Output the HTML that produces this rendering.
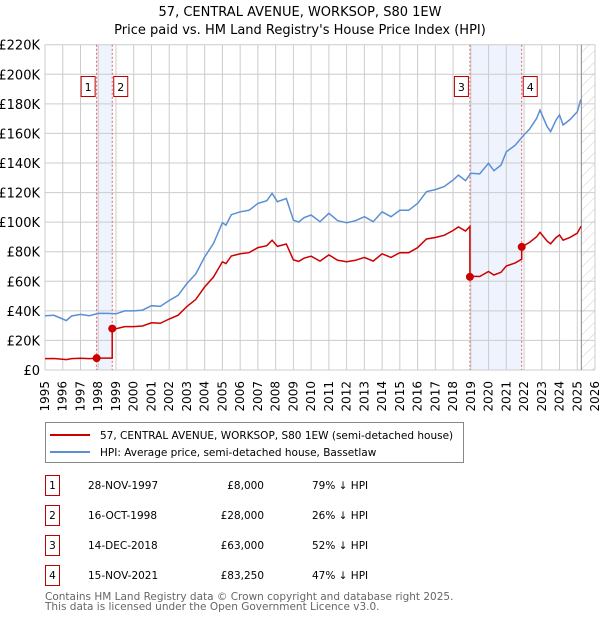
<!DOCTYPE html>
<html><head><meta charset="utf-8"><style>
body{margin:0;background:#fff;width:600px;height:620px;overflow:hidden;font-family:"DejaVu Sans","Liberation Sans",sans-serif;}
svg{display:block}
</style></head><body>
<svg id="chart" width="600" height="620" xmlns="http://www.w3.org/2000/svg">
<defs><pattern id="hatch" width="8" height="8" patternUnits="userSpaceOnUse" patternTransform="rotate(45)"><line x1="0" y1="0" x2="0" y2="8" stroke="#ccc" stroke-width="1"/></pattern></defs>
<text x="300" y="16" text-anchor="middle" font-size="13">57, CENTRAL AVENUE, WORKSOP, S80 1EW</text>
<text x="300" y="34" text-anchor="middle" font-size="13">Price paid vs. HM Land Registry's House Price Index (HPI)</text>
<g id="plot"></g>
<g>
<rect x="45.5" y="422.5" width="418" height="40" fill="#fff" stroke="#888"/>
<line x1="50" y1="435" x2="90" y2="435" stroke="#cc0000" stroke-width="2"/>
<text x="100" y="439" font-size="10.5">57, CENTRAL AVENUE, WORKSOP, S80 1EW (semi-detached house)</text>
<line x1="50" y1="452" x2="90" y2="452" stroke="#5b8fd4" stroke-width="2"/>
<text x="100" y="456" font-size="10.5">HPI: Average price, semi-detached house, Bassetlaw</text>
</g>
<g id="table" font-size="10.5"></g>
<text x="45" y="600" font-size="10.5" fill="#666">Contains HM Land Registry data © Crown copyright and database right 2025.</text>
<text x="45" y="610" font-size="10.5" fill="#666">This data is licensed under the Open Government Licence v3.0.</text>
</svg>
<script>
const yearTicks=[1995,1996,1997,1998,1999,2000,2001,2002,2003,2004,2005,2006,2007,2008,2009,2010,2011,2012,2013,2014,2015,2016,2017,2018,2019,2020,2021,2022,2023,2024,2025,2026];
const yTicks=[0,20000,40000,60000,80000,100000,120000,140000,160000,180000,200000,220000];
const yTickLabels=["£0","£20K","£40K","£60K","£80K","£100K","£120K","£140K","£160K","£180K","£200K","£220K"];
const hpiDates=[1995.0,1995.5,1996.0,1996.2,1996.5,1997.0,1997.5,1998.0,1998.5,1999.0,1999.5,2000.0,2000.5,2001.0,2001.5,2002.0,2002.5,2003.0,2003.5,2004.0,2004.5,2005.0,2005.2,2005.5,2006.0,2006.5,2007.0,2007.5,2007.8,2008.1,2008.6,2009.0,2009.3,2009.6,2010.0,2010.5,2011.0,2011.5,2012.0,2012.5,2013.0,2013.5,2014.0,2014.5,2015.0,2015.5,2016.0,2016.5,2017.0,2017.5,2018.0,2018.3,2018.7,2019.0,2019.5,2020.0,2020.3,2020.7,2021.0,2021.5,2022.0,2022.3,2022.7,2022.9,2023.3,2023.5,2023.8,2024.0,2024.2,2024.6,2025.0,2025.2];
const hpiValues=[36700,37000,34500,33400,36500,37600,36700,38300,38300,38000,40000,40000,40500,43500,43000,47000,50500,58500,65000,76500,85600,99600,98000,105000,107000,108000,112700,114500,119500,113800,116000,101400,100000,103000,104800,100300,106000,101000,99600,101000,103700,100300,107000,103700,108000,108000,112700,120600,122000,124000,128500,131800,128000,133000,132600,139800,134800,138600,147600,152000,159000,162800,170000,175800,164600,161200,169000,172500,165700,169500,174700,183000];
const saleDates=[1997.91,1998.79,2018.95,2021.87];
const salePrices=[8000,28000,63000,83250];
const saleLabels=["1","2","3","4"];
const saleDateText=["28-NOV-1997","16-OCT-1998","14-DEC-2018","15-NOV-2021"];
const salePriceText=["£8,000","£28,000","£63,000","£83,250"];
const salePctText=["79% ↓ HPI","26% ↓ HPI","52% ↓ HPI","47% ↓ HPI"];
const projStart=2025.23;

const X0=45,X1=595,Y0=370,Y1=44.7;
const xs=t=>X0+(t-1995)/(2026-1995)*(X1-X0);
const ys=v=>Y0-v/220000*(Y0-Y1);
const NS="http://www.w3.org/2000/svg";
function mk(tag,attrs,parent){const e=document.createElementNS(NS,tag);for(const k in attrs)e.setAttribute(k,attrs[k]);parent.appendChild(e);return e;}
function hpiAt(t){if(t<=hpiDates[0])return hpiValues[0];for(let i=1;i<hpiDates.length;i++){if(t<=hpiDates[i]){const f=(t-hpiDates[i-1])/(hpiDates[i]-hpiDates[i-1]);return hpiValues[i-1]+f*(hpiValues[i]-hpiValues[i-1]);}}return hpiValues[hpiValues.length-1];}
const plot=document.getElementById('plot');
for(const [a,b] of [[0,1],[2,3]]){
 const r=mk('rect',{x:xs(saleDates[a]),y:Y1,width:xs(saleDates[b])-xs(saleDates[a]),height:Y0-Y1,fill:'#eef3fd'},plot);
 
 
}
const hr=mk('rect',{x:xs(projStart),y:Y1,width:X1-xs(projStart),height:Y0-Y1,fill:'url(#hatch)'},plot);


yearTicks.forEach(y=>{
 const l=mk('line',{x1:xs(y),x2:xs(y),y1:Y1,y2:Y0,stroke:'#ccc','stroke-width':1},plot);
 
 
 const t=mk('text',{x:0,y:0,'font-size':12,'text-anchor':'end',transform:`translate(${xs(y)+4},381) rotate(-90)`},plot);
 t.textContent=y;
 
 
});
yTicks.forEach((v,i)=>{
 const l=mk('line',{x1:X0,x2:X1,y1:ys(v),y2:ys(v),stroke:'#ccc','stroke-width':1},plot);
 
 
 const t=mk('text',{x:40,y:ys(v)+5,'font-size':13,'text-anchor':'end'},plot);
 t.textContent=yTickLabels[i];
 
 
});
const pl=mk('line',{x1:xs(projStart),x2:xs(projStart),y1:Y1,y2:Y0,stroke:'#888','stroke-width':1},plot);


saleDates.forEach(d=>{
 const l=mk('line',{x1:xs(d),x2:xs(d),y1:Y1,y2:Y0,stroke:'#e06060','stroke-width':1,'stroke-dasharray':'2,2'},plot);
 
 
});
let d='';hpiDates.forEach((t,i)=>{d+=(i?'L':'M')+xs(t).toFixed(1)+','+ys(hpiValues[i]).toFixed(1);});
const hp=mk('path',{d:d,fill:'none',stroke:'#5b8fd4','stroke-width':1.5},plot);


let pts=[];
for(let s=0;s<saleDates.length;s++){
 const ratio=salePrices[s]/hpiAt(saleDates[s]);
 const start=s===0?1995:saleDates[s];
 const end=s+1<saleDates.length?saleDates[s+1]:projStart;
 const ts=[start].concat(hpiDates.filter(t=>t>start&&t<end)).concat([end]);
 ts.forEach(t=>pts.push([t,hpiAt(t)*ratio]));
}
let d2='';pts.forEach((p,i)=>{d2+=(i?'L':'M')+xs(p[0]).toFixed(1)+','+ys(p[1]).toFixed(1);});
const pp=mk('path',{d:d2,fill:'none',stroke:'#cc0000','stroke-width':1.5},plot);


saleDates.forEach((t,i)=>{
 const c=mk('circle',{cx:xs(t),cy:ys(salePrices[i]),r:4,fill:'#cc0000'},plot);
 
 
 const bx=i%2===0?xs(t)-16:xs(t)+1;
 const b=mk('rect',{x:bx+0.5,y:76.5,width:14,height:20,fill:'#fff',stroke:'#b00'},plot);
 
 
 const tx=mk('text',{x:bx+7.5,y:91,'font-size':11,'text-anchor':'middle'},plot);
 tx.textContent=saleLabels[i];
 
 
});
const tb=document.getElementById('table');
saleLabels.forEach((l,i)=>{
 const cy=485+i*30;
 const b=mk('rect',{x:45.5,y:cy-9.5,width:14,height:20,fill:'#fff',stroke:'#b00'},tb);
 
 
 const t1=mk('text',{x:52.5,y:cy+4,'text-anchor':'middle'},tb);t1.textContent=l;
 
 
 const t2=mk('text',{x:88,y:cy+4},tb);t2.textContent=saleDateText[i];
 
 
 const t3=mk('text',{x:264,y:cy+4,'text-anchor':'end'},tb);t3.textContent=salePriceText[i];
 
 
 const t4=mk('text',{x:312,y:cy+4},tb);t4.textContent=salePctText[i];
 
 
});
</script>
</body></html>
